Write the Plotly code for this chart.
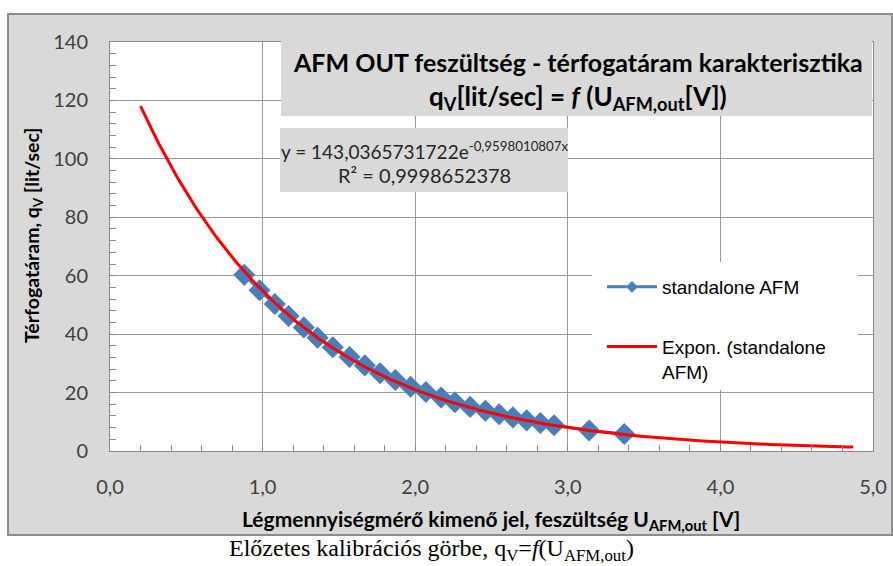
import numpy as np
import plotly.graph_objects as go

# --- data ---
u_afm = [0.88, 0.98, 1.08, 1.17, 1.27, 1.36, 1.46, 1.57, 1.67, 1.77, 1.87, 1.97,
         2.07, 2.17, 2.26, 2.36, 2.46, 2.55, 2.64, 2.73, 2.82, 2.91, 3.14, 3.37]
q_v = [60.3, 55.0, 50.3, 46.2, 42.3, 38.8, 35.5, 32.2, 29.3, 26.6, 24.3, 22.0,
       20.2, 18.3, 16.7, 15.1, 13.8, 12.6, 11.5, 10.5, 9.6, 8.8, 7.0, 5.8]

# Excel exponential trendline shown on the chart
trend_a = 143.0365731722
trend_b = -0.9598010807
trend_x_start = 0.2
trend_x_end = 4.87

x_ticks = [0, 1, 2, 3, 4, 5]
y_ticks = [0, 20, 40, 60, 80, 100, 120, 140]

series_name = "standalone AFM"
trend_name = "Expon. (standalone<br>AFM)"

title_line1 = "AFM OUT feszültség - térfogatáram karakterisztika"
title_line2 = "q<sub>V</sub>[lit/sec] = <i>f</i> (U<sub>AFM,out</sub>[V])"
eq_line1 = "y = 143,0365731722e<sup>-0,9598010807x</sup>"
eq_line2 = "R² = 0,9998652378"
x_title = "Légmennyiségmérő kimenő jel, feszültség U<sub>AFM,out</sub> [V]"
y_title = "Térfogatáram, q<sub>V</sub> [lit/sec]"
caption = "Előzetes kalibrációs görbe, q<sub>V</sub>=<i>f</i>(U<sub>AFM,out</sub>)"

# --- geometry (pixels) ---
W, H = 893, 566
L, R, T, B = 110, 873, 42, 451


def px(xp):
    return (xp - L) / (R - L)


def py(yp):
    return (B - yp) / (B - T)


blue = "#4A7EBB"
red = "#FF0000"
grid = "#9A9A9A"
panel = "#D9D9D9"
txt = "#262626"

tx = np.linspace(trend_x_start, trend_x_end, 300)
ty = trend_a * np.exp(trend_b * tx)

fig = go.Figure()
fig.add_trace(go.Scatter(
    x=u_afm, y=q_v, mode="lines+markers", name=series_name, showlegend=False,
    line=dict(color=blue, width=3),
    marker=dict(symbol="diamond", size=17, color=blue),
))
fig.add_trace(go.Scatter(
    x=tx, y=ty, mode="lines", name=trend_name, showlegend=False,
    line=dict(color=red, width=3),
))
# legend proxies
fig.add_trace(go.Scatter(
    x=[None], y=[None], mode="lines+markers", name=series_name,
    line=dict(color=blue, width=3),
    marker=dict(symbol="diamond", size=9, color=blue),
    legendgroup="a",
))
fig.add_trace(go.Scatter(
    x=[None], y=[None], mode="lines", name=trend_name,
    line=dict(color=red, width=3),
    legendgroup="b",
))

shapes = [
    # outer chart panel
    dict(type="rect", xref="paper", yref="paper",
         x0=px(8), x1=px(892), y0=py(535), y1=py(14),
         fillcolor=panel, line=dict(color="#8C8C8C", width=2), layer="below"),
    # plot area
    dict(type="rect", xref="paper", yref="paper",
         x0=0, x1=1, y0=0, y1=1,
         fillcolor="white", line=dict(width=0), layer="below"),
    # title box
    dict(type="rect", xref="paper", yref="paper",
         x0=px(281), x1=px(872), y0=py(116), y1=py(38),
         fillcolor=panel, line=dict(width=0), layer="above"),
    # equation box
    dict(type="rect", xref="paper", yref="paper",
         x0=px(280), x1=px(568), y0=py(192), y1=py(128),
         fillcolor=panel, line=dict(width=0), layer="above"),
    # legend background
    dict(type="rect", xref="paper", yref="paper",
         x0=px(592), x1=px(858), y0=py(390), y1=py(262),
         fillcolor="white", line=dict(width=0), layer="above"),
]

calibri = "Lato, 'Open Sans', sans-serif"


def ann(text, xp, yp, size, color="#000000", family=calibri, angle=0):
    return dict(text=text, x=px(xp), y=py(yp), xref="paper", yref="paper",
                xanchor="center", yanchor="middle", showarrow=False,
                textangle=angle, font=dict(family=family, size=size, color=color))


annotations = [
    ann("<b>" + title_line1 + "</b>", 578, 62, 25),
    ann("<b>" + title_line2 + "</b>", 578, 98, 26),
    ann(eq_line1, 424, 150, 19, txt),
    ann(eq_line2, 424, 175, 20, txt),
    ann("<b>" + x_title + "</b>", 491, 520, 21),
    ann("<b>" + y_title + "</b>", 33, 236, 19.5, angle=-90),
    ann(caption, 431, 550, 24, family="Liberation Serif, 'Times New Roman', serif"),
]

fig.update_layout(
    width=W, height=H,
    margin=dict(l=L, r=W - R, t=T, b=H - B, pad=0, autoexpand=False),
    paper_bgcolor="white", plot_bgcolor="rgba(0,0,0,0)",
    separators=", ",
    shapes=shapes, annotations=annotations,
    showlegend=True,
    legend=dict(x=px(602), y=py(268), xanchor="left", yanchor="top",
                bgcolor="rgba(0,0,0,0)", borderwidth=0,
                font=dict(family="Liberation Sans, Arial, sans-serif", size=19, color="#000000"),
                tracegroupgap=32, itemwidth=50, valign="top",
                traceorder="grouped"),
)
fig.update_xaxes(
    range=[0, 5], tickvals=x_ticks, tickformat=".1f",
    showgrid=True, gridcolor=grid, gridwidth=1,
    showline=True, linecolor="#8A8A8A", linewidth=1, mirror=True,
    ticks="inside", ticklen=6, tickcolor="#8A8A8A",
    minor=dict(dtick=0.2, ticks="inside", ticklen=6, tickcolor="#8A8A8A", showgrid=False),
    tickfont=dict(family=calibri, size=20, color="#404040"),
    ticklabelstandoff=18, zeroline=False,
)
fig.update_yaxes(
    range=[0, 140], tickvals=y_ticks,
    showgrid=True, gridcolor=grid, gridwidth=1,
    showline=True, linecolor="#8A8A8A", linewidth=1, mirror=True,
    ticks="inside", ticklen=6, tickcolor="#8A8A8A",
    minor=dict(dtick=4, ticks="inside", ticklen=6, tickcolor="#8A8A8A", showgrid=False),
    tickfont=dict(family=calibri, size=20, color="#404040"),
    ticklabelstandoff=17, zeroline=False,
)

fig.write_html("out.html", config={"displayModeBar": False},
               post_script="document.body.style.margin='0px';")
